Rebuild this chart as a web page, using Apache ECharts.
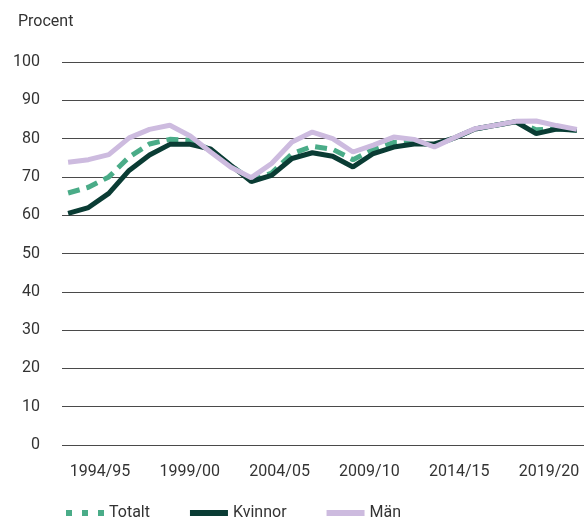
<!DOCTYPE html>
<html>
<head>
<meta charset="utf-8">
<script src="https://cdn.jsdelivr.net/npm/echarts@6/dist/echarts.min.js"></script>
<style>
  html, body { margin: 0; padding: 0; background: #fff; }
  #chart { width: 584px; height: 517px; }
</style>
</head>
<body>
<div id="chart"></div>
<script>
// andel i procent, en punkt per läsår
var totalt  = [65.8, 67.3, 70.0, 75.2, 78.6, 79.8, 79.6, 77.0, 73.0, 69.2, 71.0, 76.0, 78.0, 77.2, 74.5, 77.2, 79.0, 79.2, 78.2, 80.2, 82.5, 83.5, 84.4, 82.3, 82.6, 82.2];
var kvinnor = [60.5, 62.0, 65.7, 71.7, 75.7, 78.5, 78.5, 77.3, 73.0, 68.8, 70.4, 74.8, 76.3, 75.4, 72.6, 76.1, 77.8, 78.6, 78.6, 80.2, 82.5, 83.5, 84.4, 81.3, 82.5, 82.2];
var man     = [73.8, 74.5, 75.8, 80.2, 82.4, 83.5, 80.7, 76.5, 72.5, 69.8, 73.5, 79.1, 81.7, 80.0, 76.5, 78.3, 80.4, 79.8, 77.8, 80.3, 82.6, 83.5, 84.5, 84.6, 83.4, 82.4];
var tickLabels = ['1994/95', '1999/00', '2004/05', '2009/10', '2014/15', '2019/20'];
var yTicks = [0, 10, 20, 30, 40, 50, 60, 70, 80, 90, 100];

var font = 'Roboto, "Noto Sans", sans-serif';
var colors = { totalt: '#4aac88', kvinnor: '#0a3c34', man: '#cdbbdf' };

function pairs(arr) {
    return arr.map(function (v, i) { return [i, v]; });
}

// tre korta streck i legenden för den streckade serien
var dashIcon = 'path://M0,0h6v6h-6z M16,0h6v6h-6z M32,0h6v6h-6z';

var myChart = echarts.init(document.getElementById('chart'));
var option = {
    animation: false,
    title: {
        text: 'Procent',
        left: 13,
        top: 9,
        textStyle: { fontFamily: font, fontSize: 16, fontWeight: 'normal', color: '#333' }
    },
    legend: {
        left: 61,
        top: 500,
        itemWidth: 38,
        itemHeight: 6,
        itemGap: 40,
        textStyle: { fontFamily: font, fontSize: 16, color: '#333' },
        data: [
            { name: 'Totalt', icon: dashIcon },
            { name: 'Kvinnor', icon: 'rect' },
            { name: 'Män', icon: 'rect' }
        ]
    },
    grid: { left: 62, right: 0, top: 62, bottom: 72 },
    xAxis: [
        {
            type: 'value',
            min: -0.3,
            max: 25.35,
            show: false
        },
        {
            // bara för etiketterna
            type: 'value',
            min: -0.4232,
            max: 5.39,
            position: 'bottom',
            axisLine: { show: false },
            axisTick: { show: false },
            splitLine: { show: false },
            axisLabel: {
                customValues: [0, 1, 2, 3, 4, 5],
                margin: 19,
                fontFamily: font,
                fontSize: 16,
                color: '#333',
                formatter: function (v) {
                    return Number.isInteger(v) ? tickLabels[v] : '';
                }
            }
        }
    ],
    yAxis: {
        type: 'value',
        min: yTicks[0],
        max: yTicks[yTicks.length - 1],
        interval: 10,
        axisLine: { show: false },
        axisTick: { show: false },
        axisLabel: { margin: 22, fontFamily: font, fontSize: 16, color: '#333' },
        splitLine: { lineStyle: { color: '#4a4a4a', width: 1 } }
    },
    series: [
        {
            name: 'Totalt',
            type: 'line',
            xAxisIndex: 0,
            data: pairs(totalt),
            symbol: 'none',
            color: colors.totalt,
            lineStyle: { width: 5, type: [12, 7], color: colors.totalt }
        },
        {
            name: 'Kvinnor',
            type: 'line',
            xAxisIndex: 0,
            data: pairs(kvinnor),
            symbol: 'none',
            color: colors.kvinnor,
            lineStyle: { width: 5, color: colors.kvinnor }
        },
        {
            name: 'Män',
            type: 'line',
            xAxisIndex: 0,
            data: pairs(man),
            symbol: 'none',
            color: colors.man,
            lineStyle: { width: 5, color: colors.man }
        }
    ]
};
myChart.setOption(option);
</script>
</body>
</html>
